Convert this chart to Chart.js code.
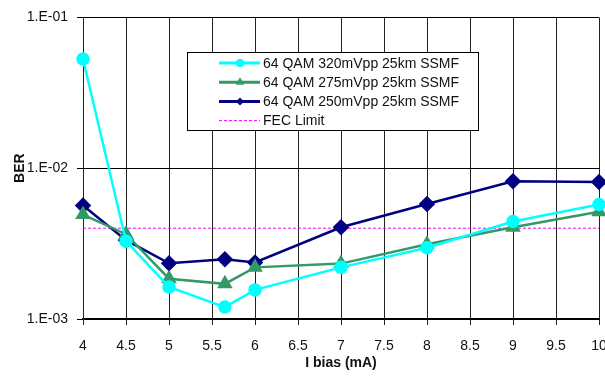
<!DOCTYPE html>
<html>
<head>
<meta charset="utf-8">
<script src="https://cdn.jsdelivr.net/npm/chart.js@4.4.1/dist/chart.umd.min.js"></script>
<style>
html, body { margin: 0; padding: 0; background: #fff; overflow: hidden; }
#wrap { width: 620px; height: 378px; }
</style>
</head>
<body>
<div id="wrap"><canvas id="c"></canvas></div>
<script>
const biasCurrent = [4, 4.5, 5, 5.65, 6, 7, 8, 9, 10]
const ber320 = [0.053, 0.00328, 0.00163, 0.0012, 0.00156, 0.0022, 0.00297, 0.00443, 0.00575]
const ber275 = [0.00493, 0.00365, 0.00185, 0.00171, 0.0022, 0.00233, 0.00313, 0.00406, 0.00515]
const ber250 = [0.00565, 0.00333, 0.00234, 0.00249, 0.00237, 0.00406, 0.00579, 0.0082, 0.0081]
const fecX = [4, 10]
const fecLimit = [0.004, 0.004]
const seriesNames = [
    "64 QAM 320mVpp 25km SSMF",
    "64 QAM 275mVpp 25km SSMF",
    "64 QAM 250mVpp 25km SSMF",
    "FEC Limit"
]
const xTicks = [4, 4.5, 5, 5.5, 6, 6.5, 7, 7.5, 8, 8.5, 9, 9.5, 10]
const yTicks = [0.001, 0.01, 0.1]
const yTickLabels = ["1.E-03", "1.E-02", "1.E-01"]

const FONT = "'Liberation Sans', Arial, sans-serif"

function pts(xs, ys) {
    return xs.map((x, i) => ({ x, y: ys[i] }))
}

// legend box drawn inside the plot, Excel style
const boxLegend = {
    id: "boxLegend",
    afterDraw(chart) {
        const ctx = chart.ctx
        const x0 = 187, y0 = 52, w = 291, h = 78
        ctx.save()
        ctx.fillStyle = "#fff"
        ctx.fillRect(x0, y0, w, h)
        ctx.strokeStyle = "#000"
        ctx.lineWidth = 1
        ctx.strokeRect(x0 + 0.5, y0 + 0.5, w, h)
        ctx.font = "14px " + FONT
        ctx.textBaseline = "middle"
        ctx.textAlign = "left"
        chart.data.datasets.forEach((ds, i) => {
            const y = y0 + 11 + i * 19.2
            ctx.save()
            ctx.strokeStyle = ds.borderColor
            ctx.lineWidth = ds.legendLineWidth
            ctx.setLineDash(ds.borderDash || [])
            ctx.beginPath()
            ctx.moveTo(219, y)
            ctx.lineTo(260, y)
            ctx.stroke()
            ctx.restore()
            if (ds.pointRadius > 0) {
                ctx.fillStyle = ds.pointBackgroundColor
                ctx.strokeStyle = ds.pointBackgroundColor
                Chart.helpers.drawPoint(ctx, {
                    pointStyle: ds.pointStyle,
                    radius: ds.legendPointRadius,
                    rotation: 0,
                    borderWidth: 0
                }, 240, y)
            }
            ctx.fillStyle = "#111"
            ctx.fillText(seriesNames[i], 263, y + 1)
        })
        ctx.restore()
    }
}

new Chart(document.getElementById("c").getContext("2d"), {
    type: "line",
    data: {
        datasets: [
            {
                label: seriesNames[0],
                data: pts(biasCurrent, ber320),
                borderColor: "#00ffff",
                pointBackgroundColor: "#00ffff",
                pointBorderColor: "#00ffff",
                borderWidth: 2.5,
                legendLineWidth: 3,
                pointStyle: "circle",
                pointRadius: 5.5,
                legendPointRadius: 4,
            },
            {
                label: seriesNames[1],
                data: pts(biasCurrent, ber275),
                borderColor: "#339966",
                pointBackgroundColor: "#339966",
                pointBorderColor: "#339966",
                borderWidth: 2.5,
                legendLineWidth: 3,
                pointStyle: "triangle",
                pointRadius: 6.5,
                legendPointRadius: 5,
            },
            {
                label: seriesNames[2],
                data: pts(biasCurrent, ber250),
                borderColor: "#000080",
                pointBackgroundColor: "#000080",
                pointBorderColor: "#000080",
                borderWidth: 2.5,
                legendLineWidth: 3,
                pointStyle: "rectRot",
                pointRadius: 6.5,
                legendPointRadius: 4,
            },
            {
                label: seriesNames[3],
                data: pts(fecX, fecLimit),
                borderColor: "#ff00ff",
                borderWidth: 1,
                legendLineWidth: 1,
                borderDash: [3, 2],
                pointRadius: 0,
            },
        ],
    },
    options: {
        responsive: true,
        maintainAspectRatio: false,
        animation: false,
        clip: false,
        layout: { padding: { top: 13, right: 21, left: 0, bottom: 0 } },
        plugins: {
            legend: { display: false },
            tooltip: { enabled: false },
        },
        elements: { line: { tension: 0 }, point: { borderWidth: 0 } },
        scales: {
            x: {
                type: "linear",
                min: 4,
                max: 10,
                afterBuildTicks: (s) => { s.ticks = xTicks.map(v => ({ value: v })) },
                afterFit: (s) => { s.height = 59 },
                ticks: {
                    color: "#111",
                    font: { family: FONT, size: 14 },
                    padding: 13,
                    maxRotation: 0,
                    autoSkip: false,
                    callback: (v) => String(v),
                },
                grid: { color: "#222", lineWidth: 1, tickLength: 6 },
                border: { color: "#000", width: 2 },
                title: {
                    display: true,
                    text: "I bias (mA)",
                    color: "#111",
                    font: { family: FONT, size: 14, weight: "bold" },
                    padding: { top: 0, bottom: 6 },
                },
            },
            y: {
                type: "logarithmic",
                min: 0.001,
                max: 0.1,
                afterBuildTicks: (s) => { s.ticks = yTicks.map(v => ({ value: v })) },
                afterFit: (s) => { s.width = 83 },
                ticks: {
                    color: "#111",
                    font: { family: FONT, size: 14 },
                    padding: 9,
                    autoSkip: false,
                    callback: (v) => yTickLabels[yTicks.indexOf(v)],
                },
                grid: { color: "#000", lineWidth: 1, tickLength: 6 },
                border: { color: "#222", width: 1 },
                title: {
                    display: true,
                    text: "BER",
                    color: "#111",
                    font: { family: FONT, size: 14, weight: "bold" },
                    padding: { top: 12, bottom: 0 },
                },
            },
        },
    },
    plugins: [boxLegend],
})
</script>
</body>
</html>
